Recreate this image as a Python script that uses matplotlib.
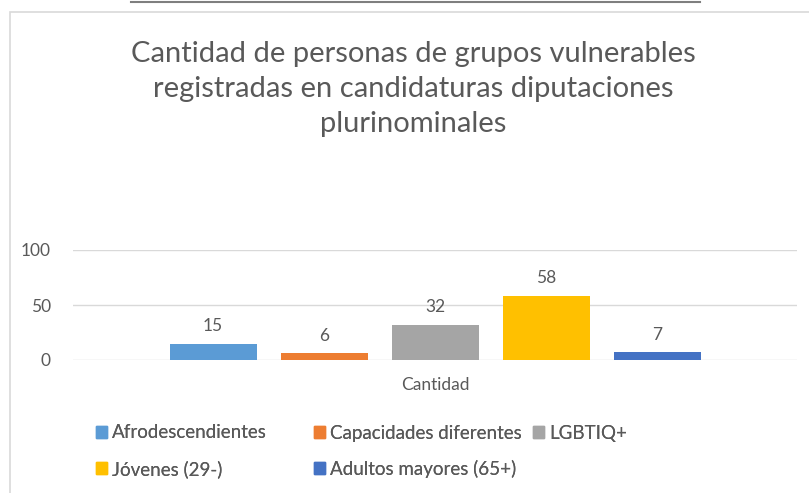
import matplotlib.pyplot as plt
from matplotlib.patches import Rectangle, Patch
from matplotlib.lines import Line2D

# Data
series = ['Afrodescendientes', 'Capacidades diferentes', 'LGBTIQ+',
          'Jóvenes (29-)', 'Adultos mayores (65+)']
values = [15, 6, 32, 58, 7]
category = 'Cantidad'
yticks = [0, 50, 100]
colors = ['#5B9BD5', '#ED7D31', '#A5A5A5', '#FFC000', '#4472C4']

title = ('Cantidad de personas de grupos vulnerables\n'
         'registradas en candidaturas diputaciones\n'
         'plurinominales')

txt = '#595959'
plt.rcParams['font.family'] = ['Lato', 'DejaVu Sans']

W, H = 809, 493
fig = plt.figure(figsize=(W / 100, H / 100), dpi=100)

# chart frame and the line above it
fig.add_artist(Rectangle((10 / W, -0.1), 1.0, 1 - 12 / H + 0.1,
                         transform=fig.transFigure, fill=False,
                         edgecolor='#d9d9d9', lw=1.2))
fig.add_artist(Line2D([131 / W, 700 / W], [1 - 1.5 / H, 1 - 1.5 / H],
                      transform=fig.transFigure, color='#7f7f7f', lw=1.5))

fig.text(413 / W, 1 - 89 / H, title, ha='center', va='center',
         fontsize=21, color=txt, linespacing=1.45)

ax = fig.add_axes([73 / W, 1 - 360 / H, 724 / W, 110 / H])
step = 111 / 724
width = 87 / 724
n = len(values)
for i, (v, c) in enumerate(zip(values, colors)):
    x = (i - (n - 1) / 2) * step
    ax.bar(x, v, width=width, color=c, zorder=3)
    ax.annotate(str(v), (x, v), xytext=(0, 7), textcoords='offset points',
                ha='center', va='bottom', fontsize=12.5, color=txt)

ax.set_xlim(-0.5, 0.5)
ax.set_ylim(0, 100)
ax.set_yticks(yticks)
ax.set_xticks([0])
ax.set_xticklabels([category])
ax.tick_params(length=0, labelsize=12.5, labelcolor=txt)
ax.tick_params(axis='x', pad=12)
ax.tick_params(axis='y', pad=16)
ax.grid(axis='y', color='#d9d9d9', lw=1, zorder=0)
for s in ax.spines.values():
    s.set_visible(False)

# legend entries laid out in two rows
spots = [(96, 433), (314, 433), (533, 433), (96, 469), (314, 469)]
for lab, c, (px, py) in zip(series, colors, spots):
    lg = fig.legend(handles=[Patch(color=c, label=lab)], loc='center left',
                    bbox_to_anchor=(px / W, 1 - py / H), frameon=False,
                    handlelength=0.6, handleheight=0.6, handletextpad=0.25,
                    borderaxespad=0, borderpad=0, fontsize=13.5,
                    labelcolor=txt)
    fig.add_artist(lg)

fig.savefig('out.png', dpi=100)
